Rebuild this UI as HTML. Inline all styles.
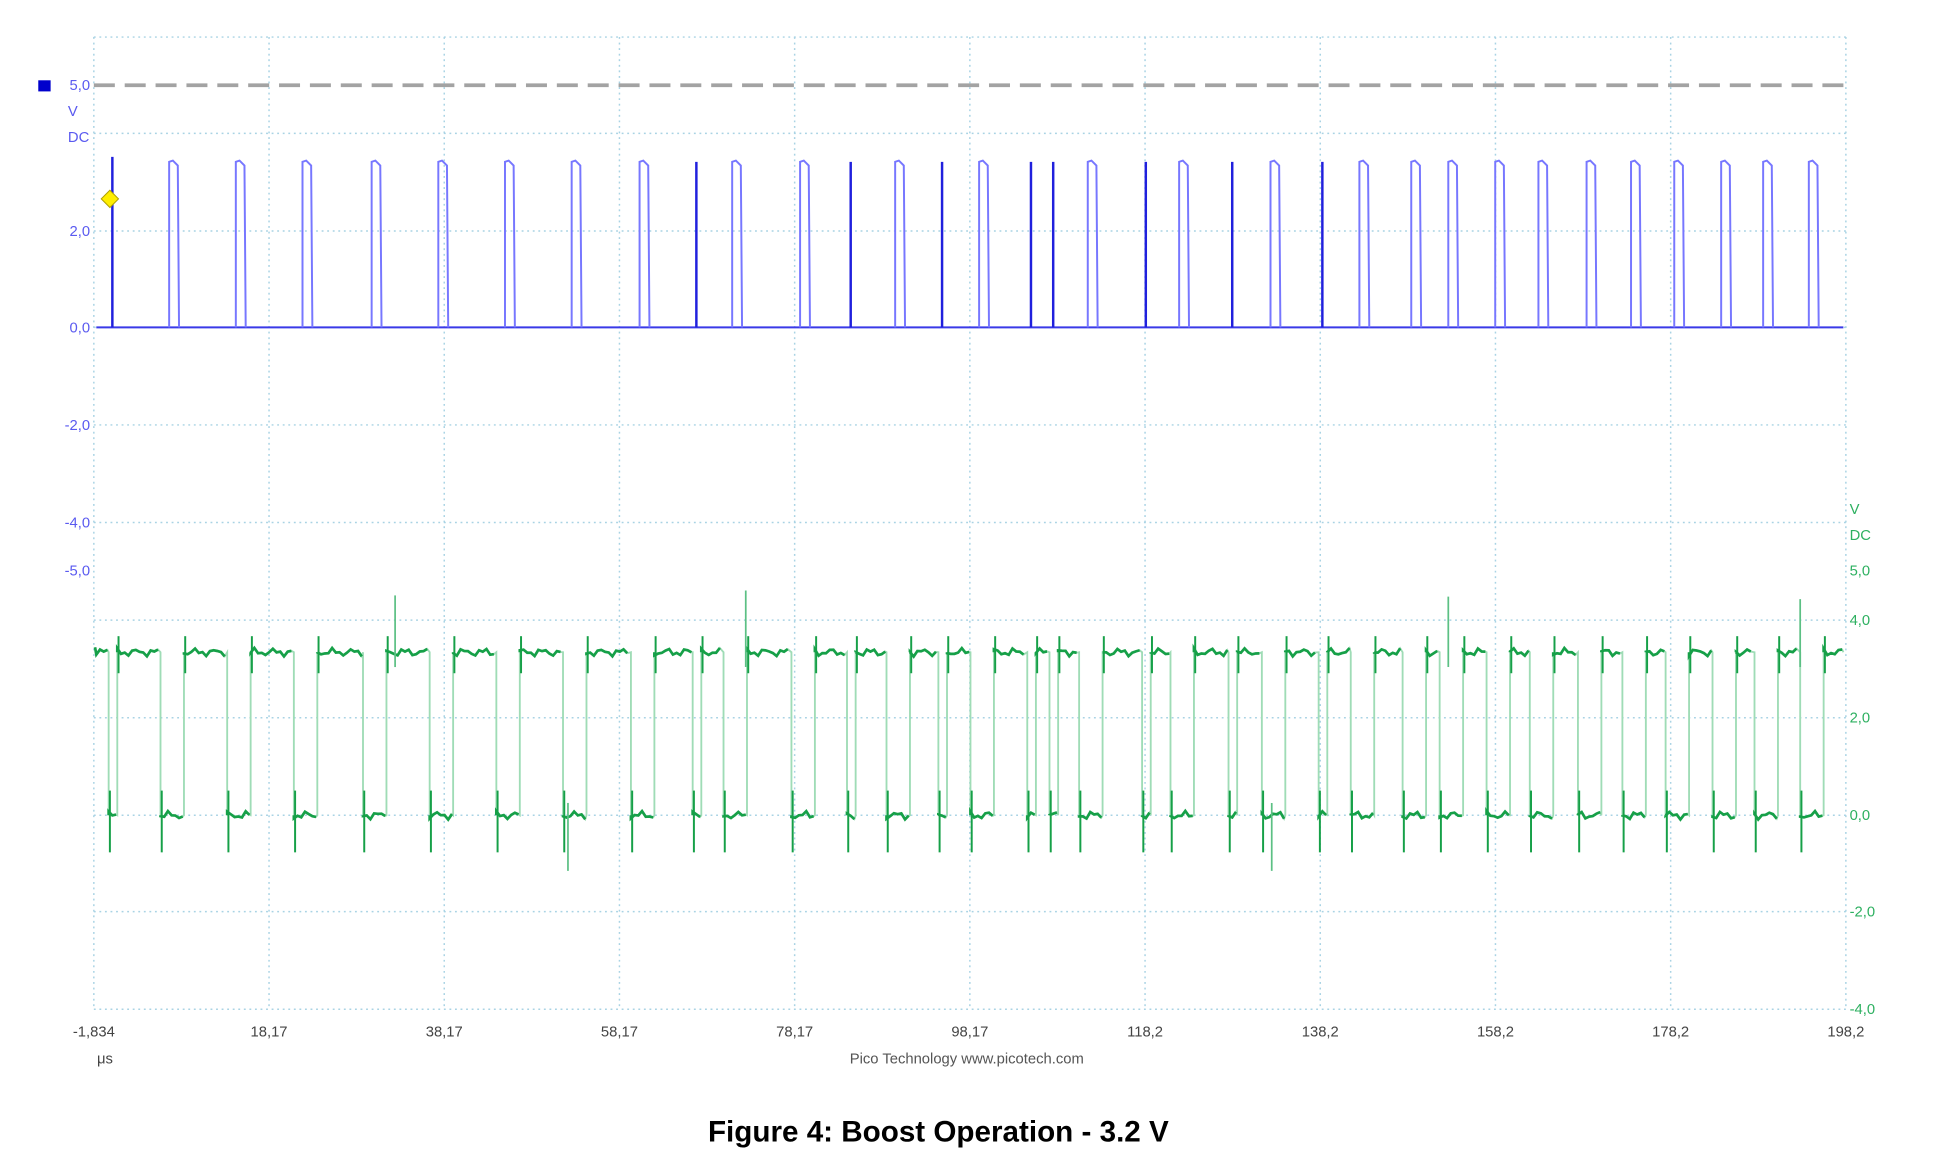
<!DOCTYPE html>
<html><head><meta charset="utf-8"><style>
html,body{margin:0;padding:0;background:#fff;}
svg{display:block;}
text{font-family:"Liberation Sans",sans-serif;}
</style></head><body>
<svg id="s" width="1936" height="1155" viewBox="0 0 1568 935" preserveAspectRatio="none">
<g id="grid" stroke="#a9d3e4" stroke-width="1.2" stroke-dasharray="1.5 3" fill="none"></g>
<line x1="76" y1="69" x2="1495" y2="69" stroke="#a3a3a3" stroke-width="3" stroke-dasharray="17 8"/>
<g id="blue"></g>
<g id="green"></g>
<rect x="31" y="65" width="10" height="9" fill="#0000cc"/>
<polygon points="89,154 96,161 89,168 82,161" fill="#ffee00" stroke="#b0a000" stroke-width="0.8"/>
<g fill="#5a5af0" font-size="12">
<text x="73" y="73" text-anchor="end">5,0</text>
<text x="55" y="94">V</text>
<text x="55" y="115">DC</text>
<text x="73" y="191" text-anchor="end">2,0</text>
<text x="73" y="269" text-anchor="end">0,0</text>
<text x="73" y="348" text-anchor="end">-2,0</text>
<text x="73" y="427" text-anchor="end">-4,0</text>
<text x="73" y="466" text-anchor="end">-5,0</text>
</g>
<g fill="#2db060" font-size="12">
<text x="1498" y="416">V</text>
<text x="1498" y="437">DC</text>
<text x="1498" y="466">5,0</text>
<text x="1498" y="506">4,0</text>
<text x="1498" y="585">2,0</text>
<text x="1498" y="664">0,0</text>
<text x="1498" y="742">-2,0</text>
<text x="1498" y="821">-4,0</text>
</g>
<g fill="#444" font-size="12" text-anchor="middle" id="xl"></g>
<text x="85" y="861" fill="#444" font-size="12" text-anchor="middle">μs</text>
<text x="783" y="861" fill="#555" font-size="12" text-anchor="middle">Pico Technology  www.picotech.com</text>
<text x="760" y="924" fill="#000" font-size="24" font-weight="bold" text-anchor="middle">Figure 4: Boost Operation - 3.2 V</text>
</svg>
<script>
var NS="http://www.w3.org/2000/svg";
function el(p,t,a){var e=document.createElementNS(NS,t);for(var k in a)e.setAttribute(k,a[k]);p.appendChild(e);return e;}
var g=document.getElementById('grid');
[30,108,187,265,344,423,502,581,660,738,817].forEach(function(y){el(g,'line',{x1:76,y1:y,x2:1495,y2:y});});
var labs=["-1,834","18,17","38,17","58,17","78,17","98,17","118,2","138,2","158,2","178,2","198,2"];
for(var k=0;k<11;k++){var x=76+141.9*k;el(g,'line',{x1:x,y1:30,x2:x,y2:817});
var t=el(document.getElementById('xl'),'text',{x:x,y:839});t.textContent=labs[k];}
var wide=[137,191,245,301,355,409,463,518,593,648,725,793,881,955,1029,1101,1143,1173,1211,1246,1285,1321,1356,1394,1428,1465];
var thin=[91,564,689,763,835,853,928,998,1071];
var B=document.getElementById('blue');
el(B,'line',{x1:78,y1:265,x2:1493,y2:265,stroke:"#3a3ae8","stroke-width":1.6});
wide.forEach(function(x){el(B,'path',{d:"M"+x+",265 L"+x+",131 L"+(x+3)+",130 L"+(x+7)+",134 L"+(x+8)+",265",fill:"none",stroke:"#7777ff","stroke-width":1.6});});
thin.forEach(function(x){el(B,'line',{x1:x,y1:265,x2:x,y2:(x==91?127:131),stroke:"#2020dd","stroke-width":2});});
var G=document.getElementById('green');
var ev=[];wide.forEach(function(x){ev.push([x-7,x+12]);});thin.forEach(function(x){ev.push([x-3,x+4]);});
ev.sort(function(a,b){return a[0]-b[0];});
var hi=528,lo=660,d="M77,524",cur=78;
function noise(a,b,y){var s="";for(var x=a;x<b;x+=3){s+=" L"+x+","+(y+Math.sin(x*1.7)*2+Math.cos(x*0.9)*1.5).toFixed(1);}return s;}
ev.forEach(function(e){d+=noise(cur,e[0],hi)+" L"+e[0]+","+hi+" L"+e[0]+","+lo+noise(e[0],e[1],lo)+" L"+e[1]+","+lo+" L"+e[1]+","+hi;cur=e[1];});
d+=noise(cur,1493,hi)+" L1493,"+hi;
el(G,'path',{d:d,fill:"none",stroke:"#9fdcb6","stroke-width":1.5});
var dh="M77,524"+noise(78,ev[0][0],hi);
ev.forEach(function(e,i){var nx=i+1<ev.length?ev[i+1][0]:1493;dh+=" M"+e[0]+","+lo+noise(e[0],e[1],lo)+" M"+e[1]+","+hi+noise(e[1],nx,hi);});
el(G,'path',{d:dh,fill:"none",stroke:"#16a048","stroke-width":2.2});
ev.forEach(function(e){
el(G,'line',{x1:e[0]+1,y1:640,x2:e[0]+1,y2:690,stroke:"#16a048","stroke-width":1.6});
el(G,'line',{x1:e[1]+1,y1:515,x2:e[1]+1,y2:545,stroke:"#16a048","stroke-width":1.6});
});
[[320,482],[604,478],[1173,483],[1458,485],[460,705],[1030,705]].forEach(function(p){el(G,'line',{x1:p[0],y1:p[1],x2:p[0],y2:(p[1]<600?540:650),stroke:"#5cc084","stroke-width":1.4});});
</script>
</body></html>
